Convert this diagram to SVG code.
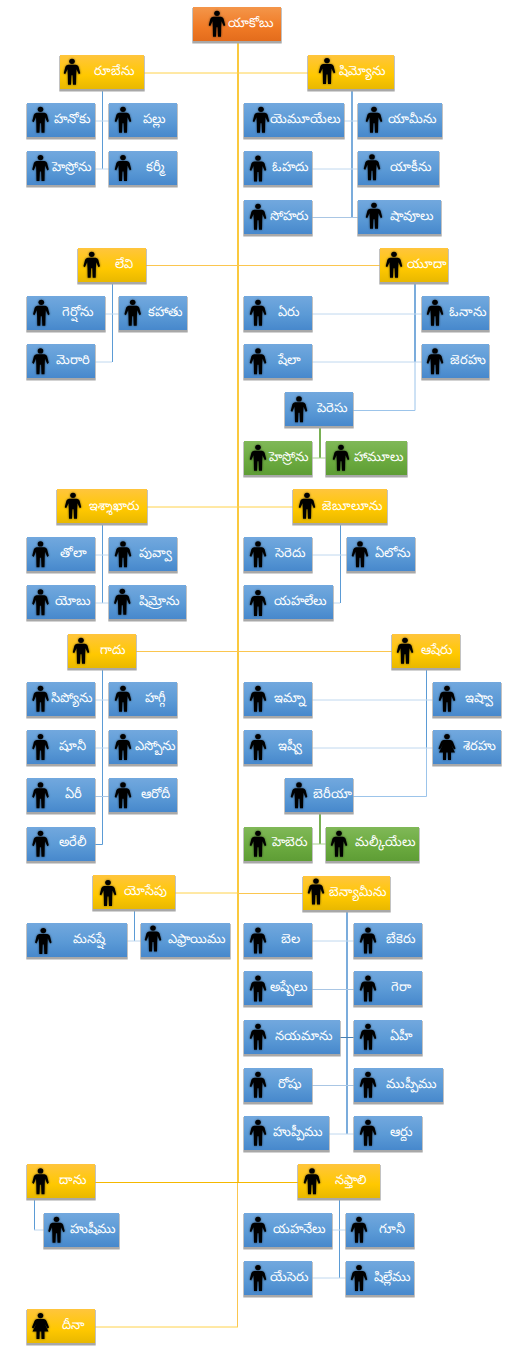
<svg xmlns="http://www.w3.org/2000/svg" width="518" height="1360" viewBox="0 0 518 1360">
<style>
text{font-family:"Noto Sans","DejaVu Sans",sans-serif;font-size:13px;fill:#fff;text-anchor:middle}
.s{fill:#a8a8a8;filter:url(#sb)}
.bl{fill:url(#gb)}.ye{fill:url(#gy)}.or{fill:url(#go)}.gr{fill:url(#gg)}
#connectors path{fill:none;stroke-width:1}
#connectors .o{stroke:#f9bc0e;stroke-width:1.6}.om{stroke:#fbc64f}.op{stroke:#ffd24a}.on{stroke:#f5b800}
.b{stroke:#5b9bd5}#connectors .bw{stroke:#6ca3d8;stroke-width:1.8}.bm{stroke:#9cc4ea}.bp{stroke:#c0d8ef}.bd{stroke:#4a7fb0}.bg{stroke:#a9c6e4}
#connectors .g{stroke:#6aa842;stroke-width:1.8}.gp{stroke:#a9d18e}
</style>
<defs>
<linearGradient id="gb" x1="0" y1="0" x2="0" y2="1"><stop offset="0" stop-color="#72a8de"/><stop offset=".55" stop-color="#5b9ad6"/><stop offset="1" stop-color="#4788cc"/></linearGradient>
<linearGradient id="gy" x1="0" y1="0" x2="0" y2="1"><stop offset="0" stop-color="#ffc53d"/><stop offset=".6" stop-color="#ffc800"/><stop offset="1" stop-color="#e8b800"/></linearGradient>
<linearGradient id="go" x1="0" y1="0" x2="0" y2="1"><stop offset="0" stop-color="#f4964a"/><stop offset=".6" stop-color="#f07a25"/><stop offset="1" stop-color="#e36c1c"/></linearGradient>
<linearGradient id="gg" x1="0" y1="0" x2="0" y2="1"><stop offset="0" stop-color="#80b858"/><stop offset=".55" stop-color="#6cab40"/><stop offset="1" stop-color="#5e9d35"/></linearGradient>
<filter id="sb" x="-10%" y="-10%" width="120%" height="130%"><feGaussianBlur stdDeviation=".5"/></filter>
<filter id="gl" x="-40%" y="-20%" width="180%" height="140%"><feGaussianBlur in="SourceAlpha" stdDeviation="1.1" result="b"/><feFlood flood-color="#000" flood-opacity=".55"/><feComposite in2="b" operator="in"/><feMerge><feMergeNode/><feMergeNode in="SourceGraphic"/></feMerge></filter>
<g id="m" filter="url(#gl)"><ellipse cx="0" cy="2.6" rx="2.8" ry="2.6"/><path d="M-4,6L4,6Q6,6.4 6.6,8L8.3,14.5L6.8,15.6L4.5,10.5L4.2,16.5L4,26L1,26L.6,16.5L-.6,16.5L-1,26L-4,26L-4.2,16.5L-4.5,10.5L-6.8,15.6L-8.3,14.5L-6.6,8Q-6,6.4 -4,6Z"/></g>
<g id="f" filter="url(#gl)"><ellipse cx="0" cy="2.6" rx="2.8" ry="2.6"/><path d="M-3.5,6L3.5,6Q5.5,6.4 6,8L8.6,14.5L7,15.4L4.4,11L8,18.5L4,18.5L4,26L1,26L.8,18.5L-.8,18.5L-1,26L-4,26L-4,18.5L-8,18.5L-4.4,11L-7,15.4L-8.6,14.5L-6,8Q-5.5,6.4 -3.5,6Z"/></g>
</defs>
<g id="connectors">
<path class="o" d="M238,41V1182"/><path class="om" d="M237.5,1182V1327"/>
<path class="op" d="M144,73H308"/><path class="om" d="M146,265.5H380"/><path class="op" d="M147,507H293"/><path class="om" d="M136,651.5H392"/><path class="op" d="M175,893H238"/><path class="om" d="M238,893.5H303"/><path class="on" d="M95,1182.5H298"/><path class="op" d="M95,1327H238"/>
<path class="b" d="M102.5,89V169"/><path class="bp" d="M95,121H109M95,169H109"/>
<path class="bw" d="M352,89V217.5"/><path class="bp" d="M344,121H358M312,169H358"/><path class="bg" d="M312,217.5H358"/>
<path class="b" d="M112.5,282V362"/><path class="bp" d="M105,314H119M95,362H112"/>
<path class="bw" d="M415,282V362"/><path class="bm" d="M415,362V410.5H353"/><path class="bp" d="M312,314H422M312,362H422"/>
<path class="g" d="M320,426V458"/><path class="gp" d="M312,458H326"/>
<path class="b" d="M102.5,523V603"/><path class="bp" d="M95,555H109M95,603H109"/>
<path class="b" d="M340.5,523V603"/><path class="bp" d="M312,555H347M333,603H340"/>
<path class="b" d="M102.5,668V844.5H95"/><path class="bp" d="M95,700H109M95,748H109"/><path class="bg" d="M95,796.5H109"/>
<path class="b" d="M426.5,668V748"/><path class="bm" d="M426.5,748V796.5H353"/><path class="bp" d="M312,700H433M312,748H433"/>
<path class="g" d="M320,812V844"/><path class="gp" d="M312,844H326"/>
<path class="b" d="M134.5,909V941"/><path class="bp" d="M127,941H141"/>
<path class="bw" d="M347,910V1134"/><path class="bp" d="M312,941H354M329,1134H354"/><path class="bg" d="M312,989.5H354M312,1085.5H354"/><path class="bd" d="M340,1037.5H354"/>
<path class="b" d="M34.5,1198V1230"/><path class="bp" d="M34,1230H44"/>
<path class="b" d="M339.5,1198V1278"/><path class="bp" d="M332,1230H346M312,1278H346"/>
</g>
<g id="n1"><rect class="s" x="192.3" y="8" width="89.4" height="35.5"/><rect class="or" x="193" y="7" width="88" height="34"/><use href="#m" x="217" y="10.7"/><text x="251" y="27">యాకోబు</text></g>
<g id="n2"><rect class="s" x="59.3" y="56" width="85.4" height="35.5"/><rect class="ye" x="60" y="55" width="84" height="34"/><use href="#m" x="72" y="58.7"/><text x="114" y="75">రూబేను</text></g>
<g id="n3"><rect class="s" x="26.3" y="104" width="69.4" height="35.5"/><rect class="bl" x="27" y="103" width="68" height="34"/><use href="#m" x="40.5" y="106.7"/><text x="72" y="123">హనోకు</text></g>
<g id="n4"><rect class="s" x="108.3" y="104" width="69.4" height="35.5"/><rect class="bl" x="109" y="103" width="68" height="34"/><use href="#m" x="123" y="106.7"/><text x="154" y="123">పల్లు</text></g>
<g id="n5"><rect class="s" x="26.3" y="152" width="69.4" height="35.5"/><rect class="bl" x="27" y="151" width="68" height="34"/><use href="#m" x="40.5" y="155"/><text x="72" y="171">హెస్రోను</text></g>
<g id="n6"><rect class="s" x="108.3" y="152" width="69.4" height="35.5"/><rect class="bl" x="109" y="151" width="68" height="34"/><use href="#m" x="123" y="155"/><text x="155" y="171">కర్మీ</text></g>
<g id="n7"><rect class="s" x="307.3" y="56" width="87.4" height="35.5"/><rect class="ye" x="308" y="55" width="86" height="34"/><use href="#m" x="327" y="58"/><text x="362" y="75">షిమ్యోను</text></g>
<g id="n8"><rect class="s" x="243.3" y="104" width="101.4" height="35.5"/><rect class="bl" x="244" y="103" width="100" height="34"/><use href="#m" x="261" y="106.7"/><text x="305" y="123">యెమూయేలు</text></g>
<g id="n9"><rect class="s" x="357.3" y="104" width="85.4" height="35.5"/><rect class="bl" x="358" y="103" width="84" height="34"/><use href="#m" x="374" y="106.7"/><text x="412" y="123">యామీను</text></g>
<g id="n10"><rect class="s" x="243.3" y="152" width="69.4" height="35.5"/><rect class="bl" x="244" y="151" width="68" height="34"/><use href="#m" x="258" y="155.5"/><text x="290" y="171">ఓహదు</text></g>
<g id="n11"><rect class="s" x="357.3" y="152" width="82.4" height="35.5"/><rect class="bl" x="358" y="151" width="81" height="34"/><use href="#m" x="372" y="154.3"/><text x="411" y="171">యాకీను</text></g>
<g id="n12"><rect class="s" x="243.3" y="201" width="69.4" height="35.5"/><rect class="bl" x="244" y="200" width="68" height="34"/><use href="#m" x="258" y="203.7"/><text x="289" y="220">సోహరు</text></g>
<g id="n13"><rect class="s" x="357.3" y="201" width="84.4" height="35.5"/><rect class="bl" x="358" y="200" width="83" height="34"/><use href="#m" x="374" y="202.7"/><text x="412" y="220">షావూలు</text></g>
<g id="n14"><rect class="s" x="77.3" y="249" width="69.4" height="35.5"/><rect class="ye" x="78" y="248" width="68" height="34"/><use href="#m" x="91.7" y="251.7"/><text x="124" y="268">లేవి</text></g>
<g id="n15"><rect class="s" x="379.3" y="249" width="69.4" height="35.5"/><rect class="ye" x="380" y="248" width="68" height="34"/><use href="#m" x="394" y="251.7"/><text x="427" y="268">యూదా</text></g>
<g id="n16"><rect class="s" x="26.3" y="297" width="79.4" height="35.5"/><rect class="bl" x="27" y="296" width="78" height="34"/><use href="#m" x="41.3" y="299.7"/><text x="78" y="316">గెర్షోను</text></g>
<g id="n17"><rect class="s" x="118.3" y="297" width="69.4" height="35.5"/><rect class="bl" x="119" y="296" width="68" height="34"/><use href="#m" x="132.7" y="299.7"/><text x="165" y="316">కహాతు</text></g>
<g id="n18"><rect class="s" x="26.3" y="345" width="69.4" height="35.5"/><rect class="bl" x="27" y="344" width="68" height="34"/><use href="#m" x="40.5" y="348.3"/><text x="73" y="364">మెరారి</text></g>
<g id="n19"><rect class="s" x="243.3" y="297" width="69.4" height="35.5"/><rect class="bl" x="244" y="296" width="68" height="34"/><use href="#m" x="258" y="299.7"/><text x="289" y="316">ఏరు</text></g>
<g id="n20"><rect class="s" x="421.3" y="297" width="68.4" height="35.5"/><rect class="bl" x="422" y="296" width="67" height="34"/><use href="#m" x="435" y="299.7"/><text x="468" y="316">ఓనాను</text></g>
<g id="n21"><rect class="s" x="243.3" y="345" width="69.4" height="35.5"/><rect class="bl" x="244" y="344" width="68" height="34"/><use href="#m" x="258" y="348.3"/><text x="289" y="364">షేలా</text></g>
<g id="n22"><rect class="s" x="421.3" y="345" width="68.4" height="35.5"/><rect class="bl" x="422" y="344" width="67" height="34"/><use href="#m" x="435" y="348.3"/><text x="468" y="364">జెరహు</text></g>
<g id="n23"><rect class="s" x="284.3" y="393" width="69.4" height="35.5"/><rect class="bl" x="285" y="392" width="68" height="34"/><use href="#m" x="299" y="396.3"/><text x="332" y="412">పెరెసు</text></g>
<g id="n24"><rect class="s" x="243.3" y="442" width="69.4" height="35.5"/><rect class="gr" x="244" y="441" width="68" height="34"/><use href="#m" x="258" y="444.7"/><text x="289" y="461">హెస్రోను</text></g>
<g id="n25"><rect class="s" x="325.3" y="442" width="82.4" height="35.5"/><rect class="gr" x="326" y="441" width="81" height="34"/><use href="#m" x="341" y="444.7"/><text x="379" y="461">హామూలు</text></g>
<g id="n26"><rect class="s" x="56.3" y="490" width="91.4" height="35.5"/><rect class="ye" x="57" y="489" width="90" height="34"/><use href="#m" x="73" y="492.7"/><text x="114" y="510">ఇశ్శాఖారు</text></g>
<g id="n27"><rect class="s" x="292.3" y="490" width="95.4" height="35.5"/><rect class="ye" x="293" y="489" width="94" height="34"/><use href="#m" x="307" y="492.7"/><text x="352" y="510">జెబూలూను</text></g>
<g id="n28"><rect class="s" x="26.3" y="538" width="69.4" height="35.5"/><rect class="bl" x="27" y="537" width="68" height="34"/><use href="#m" x="40.5" y="541.3"/><text x="73" y="557">తోలా</text></g>
<g id="n29"><rect class="s" x="108.3" y="538" width="69.4" height="35.5"/><rect class="bl" x="109" y="537" width="68" height="34"/><use href="#m" x="123" y="541.3"/><text x="155" y="557">పువ్వా</text></g>
<g id="n30"><rect class="s" x="26.3" y="586" width="69.4" height="35.5"/><rect class="bl" x="27" y="585" width="68" height="34"/><use href="#m" x="40.5" y="589.3"/><text x="73" y="605">యోబు</text></g>
<g id="n31"><rect class="s" x="108.3" y="586" width="78.4" height="35.5"/><rect class="bl" x="109" y="585" width="77" height="34"/><use href="#m" x="122.3" y="588.7"/><text x="159" y="605">షిమ్రోను</text></g>
<g id="n32"><rect class="s" x="243.3" y="538" width="69.4" height="35.5"/><rect class="bl" x="244" y="537" width="68" height="34"/><use href="#m" x="258" y="541.3"/><text x="290" y="557">సెరెదు</text></g>
<g id="n33"><rect class="s" x="346.3" y="538" width="69.4" height="35.5"/><rect class="bl" x="347" y="537" width="68" height="34"/><use href="#m" x="360" y="541.3"/><text x="393" y="557">ఏలోను</text></g>
<g id="n34"><rect class="s" x="243.3" y="586" width="90.4" height="35.5"/><rect class="bl" x="244" y="585" width="89" height="34"/><use href="#m" x="258" y="590"/><text x="300" y="605">యహలేలు</text></g>
<g id="n35"><rect class="s" x="67.3" y="635" width="69.4" height="35.5"/><rect class="ye" x="68" y="634" width="68" height="34"/><use href="#m" x="81" y="637.7"/><text x="113" y="654">గాదు</text></g>
<g id="n36"><rect class="s" x="391.3" y="635" width="69.4" height="35.5"/><rect class="ye" x="392" y="634" width="68" height="34"/><use href="#m" x="405" y="637.7"/><text x="437" y="654">ఆషేరు</text></g>
<g id="n37"><rect class="s" x="26.3" y="683" width="69.4" height="35.5"/><rect class="bl" x="27" y="682" width="68" height="34"/><use href="#m" x="40.5" y="685.7"/><text x="72" y="702">సిప్యోను</text></g>
<g id="n38"><rect class="s" x="108.3" y="683" width="69.4" height="35.5"/><rect class="bl" x="109" y="682" width="68" height="34"/><use href="#m" x="123" y="685.7"/><text x="155" y="702">హగ్గీ</text></g>
<g id="n39"><rect class="s" x="26.3" y="731" width="69.4" height="35.5"/><rect class="bl" x="27" y="730" width="68" height="34"/><use href="#m" x="40.5" y="734"/><text x="72.500" y="750">షూనీ</text></g>
<g id="n40"><rect class="s" x="108.3" y="731" width="69.4" height="35.5"/><rect class="bl" x="109" y="730" width="68" height="34"/><use href="#m" x="123" y="734"/><text x="155" y="750">ఎస్బోను</text></g>
<g id="n41"><rect class="s" x="26.3" y="779" width="69.4" height="35.5"/><rect class="bl" x="27" y="778" width="68" height="34"/><use href="#m" x="40.5" y="782.3"/><text x="73" y="798">ఏరీ</text></g>
<g id="n42"><rect class="s" x="108.3" y="779" width="69.4" height="35.5"/><rect class="bl" x="109" y="778" width="68" height="34"/><use href="#m" x="123" y="782.3"/><text x="155" y="798">ఆరోదీ</text></g>
<g id="n43"><rect class="s" x="26.3" y="828" width="69.4" height="35.5"/><rect class="bl" x="27" y="827" width="68" height="34"/><use href="#m" x="40.5" y="830.7"/><text x="73" y="846">అరేలీ</text></g>
<g id="n44"><rect class="s" x="243.3" y="683" width="69.4" height="35.5"/><rect class="bl" x="244" y="682" width="68" height="34"/><use href="#m" x="258" y="685.7"/><text x="290" y="702">ఇమ్నా</text></g>
<g id="n45"><rect class="s" x="432.3" y="683" width="69.4" height="35.5"/><rect class="bl" x="433" y="682" width="68" height="34"/><use href="#m" x="447" y="685.7"/><text x="479" y="702">ఇష్వా</text></g>
<g id="n46"><rect class="s" x="243.3" y="731" width="69.4" height="35.5"/><rect class="bl" x="244" y="730" width="68" height="34"/><use href="#m" x="258" y="734"/><text x="290" y="750">ఇష్వీ</text></g>
<g id="n47"><rect class="s" x="432.3" y="731" width="69.4" height="35.5"/><rect class="bl" x="433" y="730" width="68" height="34"/><use href="#f" x="447" y="734"/><text x="479" y="750">శెరహు</text></g>
<g id="n48"><rect class="s" x="284.3" y="779" width="69.4" height="35.5"/><rect class="bl" x="285" y="778" width="68" height="34"/><use href="#m" x="299" y="782.3"/><text x="332" y="798">బెరీయా</text></g>
<g id="n49"><rect class="s" x="243.3" y="828" width="69.4" height="35.5"/><rect class="gr" x="244" y="827" width="68" height="34"/><use href="#m" x="258" y="830.7"/><text x="290" y="846">హెబెరు</text></g>
<g id="n50"><rect class="s" x="325.3" y="828" width="94.4" height="35.5"/><rect class="gr" x="326" y="827" width="93" height="34"/><use href="#m" x="339" y="830.7"/><text x="385" y="846">మల్కీయేలు</text></g>
<g id="n51"><rect class="s" x="92.3" y="876" width="83.4" height="35.5"/><rect class="ye" x="93" y="875" width="82" height="34"/><use href="#m" x="108" y="880"/><text x="145" y="895">యోసేపు</text></g>
<g id="n52"><rect class="s" x="302.3" y="877" width="88.4" height="35.5"/><rect class="ye" x="303" y="876" width="87" height="34"/><use href="#m" x="316" y="878.5"/><text x="358" y="896">బెన్యామీను</text></g>
<g id="n53"><rect class="s" x="26.3" y="924" width="101.4" height="35.5"/><rect class="bl" x="27" y="923" width="100" height="34"/><use href="#m" x="43.300" y="928"/><text x="89" y="943">మనష్షే</text></g>
<g id="n54"><rect class="s" x="140.3" y="924" width="90.4" height="35.5"/><rect class="bl" x="141" y="923" width="89" height="34"/><use href="#m" x="153" y="925.5"/><text x="197" y="943">ఎఫ్రాయిము</text></g>
<g id="n55"><rect class="s" x="243.3" y="924" width="69.4" height="35.5"/><rect class="bl" x="244" y="923" width="68" height="34"/><use href="#m" x="258" y="927.5"/><text x="290" y="943">బెల</text></g>
<g id="n56"><rect class="s" x="353.3" y="924" width="69.4" height="35.5"/><rect class="bl" x="354" y="923" width="68" height="34"/><use href="#m" x="368" y="927.5"/><text x="401" y="943">బేకెరు</text></g>
<g id="n57"><rect class="s" x="243.3" y="972" width="69.4" height="35.5"/><rect class="bl" x="244" y="971" width="68" height="34"/><use href="#m" x="258" y="975.5"/><text x="289" y="991">అష్బేలు</text></g>
<g id="n58"><rect class="s" x="353.3" y="972" width="69.4" height="35.5"/><rect class="bl" x="354" y="971" width="68" height="34"/><use href="#m" x="368" y="975.5"/><text x="401" y="991">గెరా</text></g>
<g id="n59"><rect class="s" x="243.3" y="1021" width="97.4" height="35.5"/><rect class="bl" x="244" y="1020" width="96" height="34"/><use href="#m" x="258" y="1023.7"/><text x="304" y="1040">నయమాను</text></g>
<g id="n60"><rect class="s" x="353.3" y="1021" width="69.4" height="35.5"/><rect class="bl" x="354" y="1020" width="68" height="34"/><use href="#m" x="368" y="1023.7"/><text x="401" y="1040">ఏహీ</text></g>
<g id="n61"><rect class="s" x="243.3" y="1069" width="69.4" height="35.5"/><rect class="bl" x="244" y="1068" width="68" height="34"/><use href="#m" x="258" y="1071.7"/><text x="290" y="1088">రోషు</text></g>
<g id="n62"><rect class="s" x="353.3" y="1069" width="90.4" height="35.5"/><rect class="bl" x="354" y="1068" width="89" height="34"/><use href="#m" x="368" y="1071.7"/><text x="411" y="1088">ముప్పీము</text></g>
<g id="n63"><rect class="s" x="243.3" y="1117" width="86.4" height="35.5"/><rect class="bl" x="244" y="1116" width="85" height="34"/><use href="#m" x="258" y="1119.7"/><text x="298" y="1136">హుప్పీము</text></g>
<g id="n64"><rect class="s" x="353.3" y="1117" width="69.4" height="35.5"/><rect class="bl" x="354" y="1116" width="68" height="34"/><use href="#m" x="368" y="1119.7"/><text x="401" y="1136">ఆర్దు</text></g>
<g id="n65"><rect class="s" x="26.3" y="1165" width="69.4" height="35.5"/><rect class="ye" x="27" y="1164" width="68" height="34"/><use href="#m" x="40.5" y="1168.3"/><text x="72.500" y="1184">దాను</text></g>
<g id="n66"><rect class="s" x="297.3" y="1165" width="83.4" height="35.5"/><rect class="ye" x="298" y="1164" width="82" height="34"/><use href="#m" x="312" y="1168.3"/><text x="351" y="1184">నఫ్తాలి</text></g>
<g id="n67"><rect class="s" x="43.3" y="1214" width="76.4" height="35.5"/><rect class="bl" x="44" y="1213" width="75" height="34"/><use href="#m" x="56.500" y="1216.7"/><text x="93" y="1233">హుషీము</text></g>
<g id="n68"><rect class="s" x="243.3" y="1214" width="89.4" height="35.5"/><rect class="bl" x="244" y="1213" width="88" height="34"/><use href="#m" x="258" y="1216.7"/><text x="299" y="1233">యహనేలు</text></g>
<g id="n69"><rect class="s" x="345.3" y="1214" width="69.4" height="35.5"/><rect class="bl" x="346" y="1213" width="68" height="34"/><use href="#m" x="359" y="1216.7"/><text x="392" y="1233">గూనీ</text></g>
<g id="n70"><rect class="s" x="243.3" y="1262" width="69.4" height="35.5"/><rect class="bl" x="244" y="1261" width="68" height="34"/><use href="#m" x="258" y="1265"/><text x="289" y="1281">యేసెరు</text></g>
<g id="n71"><rect class="s" x="345.3" y="1262" width="69.4" height="35.5"/><rect class="bl" x="346" y="1261" width="68" height="34"/><use href="#m" x="359" y="1265"/><text x="392" y="1281">షిల్లేము</text></g>
<g id="n72"><rect class="s" x="26.3" y="1310" width="69.4" height="35.5"/><rect class="ye" x="27" y="1309" width="68" height="34"/><use href="#f" x="40.5" y="1313"/><text x="73" y="1329">దీనా</text></g>
</svg>
